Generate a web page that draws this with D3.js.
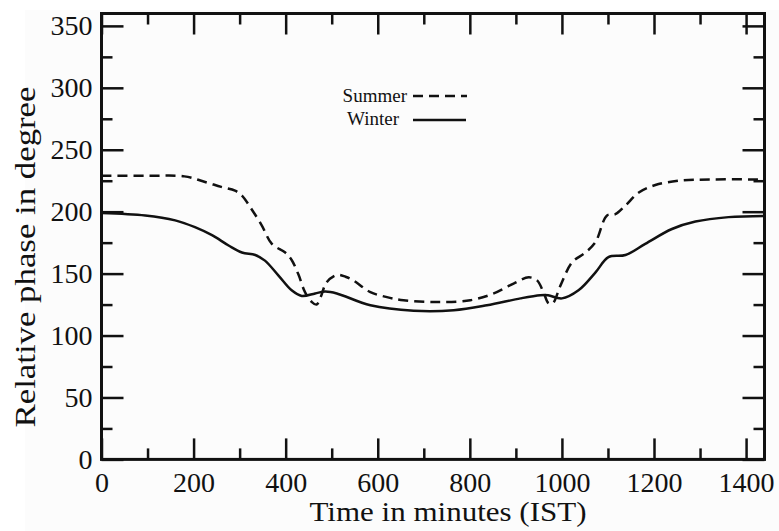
<!DOCTYPE html>
<html>
<head>
<meta charset="utf-8">
<script src="https://cdn.jsdelivr.net/npm/d3@7"></script>
<style>
  html, body { margin: 0; padding: 0; background: #fff; }
  svg { display: block; }
  text { font-family: "Liberation Serif", "Times New Roman", serif; fill: #111; }
</style>
</head>
<body>
<svg id="chart" width="779" height="531"></svg>
<script>
  // data (minutes, degrees)
  var summerX = [0, 100, 180, 225, 260, 290, 305, 326, 348, 370, 399, 413, 428, 442, 457, 467, 476, 489, 512, 530, 547, 584, 620, 656, 728, 801, 852, 895, 928, 946, 960, 971, 980, 997, 1022, 1051, 1073, 1098, 1116, 1138, 1167, 1203, 1254, 1326, 1440];
  var summerY = [229, 229, 228.5, 224, 220, 217, 213, 202, 189, 174, 167, 161, 149, 135, 127, 125, 131, 143, 149, 147.5, 144.5, 135, 131, 128.5, 127, 128.5, 134, 142, 147, 144.5, 135, 126, 126, 140.5, 159, 167, 175.5, 197, 198, 205, 215.5, 221.5, 225, 226, 226];

  var winterX = [0, 95, 160, 203, 240, 276, 305, 334, 355, 384, 413, 435, 464, 486, 511, 584, 678, 765, 837, 910, 953, 970, 1000, 1036, 1073, 1101, 1138, 1181, 1239, 1290, 1362, 1440];
  var winterY = [199, 197, 193, 187.5, 181, 172.7, 167, 165, 160.5, 148.6, 136.5, 132, 134, 135.5, 134, 124.4, 120, 120.4, 124.4, 130, 132.5, 132.5, 130, 136.5, 151, 163.3, 165, 174, 186, 192, 195.6, 196.5];

  var xMajor = [0, 200, 400, 600, 800, 1000, 1200, 1400];
  var xMinor = [100, 300, 500, 700, 900, 1100, 1300];
  var yMajor = [0, 50, 100, 150, 200, 250, 300, 350];
  var yMinor = [25, 75, 125, 175, 225, 275, 325];

  var seriesNames = ['Summer', 'Winter'];

  var svg = d3.select('#chart');
  var plotL = 101.5, plotT = 13.5, plotR = 764.5, plotB = 459.4;

  // faint scan background
  svg.append('rect').attr('x', 25).attr('y', 10).attr('width', 754).attr('height', 521).attr('fill', '#fcfcfc');

  var x = d3.scaleLinear().domain([0, 1440]).range([plotL, plotR]);
  var y = d3.scaleLinear().domain([0, 360]).range([plotB, plotT]);

  function styleAxis(g) {
    g.select('.domain').remove();
    g.selectAll('line').attr('stroke', '#111').attr('stroke-width', 2.5);
    g.selectAll('text').attr('font-size', 28).style('font-family', '"Liberation Serif", serif').attr('fill', '#111');
  }

  // bottom
  svg.append('g').attr('transform', 'translate(0,' + plotB + ')')
    .call(d3.axisBottom(x).tickValues(xMajor).tickSize(-21).tickPadding(13).tickFormat(d3.format('d')))
    .call(styleAxis);
  svg.append('g').attr('transform', 'translate(0,' + plotB + ')')
    .call(d3.axisBottom(x).tickValues(xMinor).tickSize(-11).tickFormat(''))
    .call(styleAxis);
  // top
  svg.append('g').attr('transform', 'translate(0,' + plotT + ')')
    .call(d3.axisTop(x).tickValues(xMajor).tickSize(-21).tickFormat(''))
    .call(styleAxis);
  svg.append('g').attr('transform', 'translate(0,' + plotT + ')')
    .call(d3.axisTop(x).tickValues(xMinor).tickSize(-11).tickFormat(''))
    .call(styleAxis);
  // left
  svg.append('g').attr('transform', 'translate(' + plotL + ',0)')
    .call(d3.axisLeft(y).tickValues(yMajor).tickSize(-22).tickPadding(9).tickFormat(d3.format('d')))
    .call(styleAxis);
  svg.append('g').attr('transform', 'translate(' + plotL + ',0)')
    .call(d3.axisLeft(y).tickValues(yMinor).tickSize(-11).tickFormat(''))
    .call(styleAxis);
  // right
  svg.append('g').attr('transform', 'translate(' + plotR + ',0)')
    .call(d3.axisRight(y).tickValues(yMajor).tickSize(-22).tickFormat(''))
    .call(styleAxis);
  svg.append('g').attr('transform', 'translate(' + plotR + ',0)')
    .call(d3.axisRight(y).tickValues(yMinor).tickSize(-11).tickFormat(''))
    .call(styleAxis);

  // frame
  svg.append('rect')
    .attr('x', plotL).attr('y', plotT)
    .attr('width', plotR - plotL).attr('height', plotB - plotT)
    .attr('fill', 'none').attr('stroke', '#111').attr('stroke-width', 3);

  var line = d3.line()
    .x(function (d) { return x(d[0]); })
    .y(function (d) { return y(d[1]); })
    .curve(d3.curveCatmullRom.alpha(0.5));

  var summer = summerX.map(function (v, i) { return [v, summerY[i]]; });
  var winter = winterX.map(function (v, i) { return [v, winterY[i]]; });

  svg.append('path').datum(winter)
    .attr('d', line).attr('fill', 'none')
    .attr('stroke', '#111').attr('stroke-width', 2.5);

  svg.append('path').datum(summer)
    .attr('d', line).attr('fill', 'none')
    .attr('stroke', '#111').attr('stroke-width', 2.5)
    .attr('stroke-dasharray', '10,6');

  // legend
  var legend = svg.append('g');
  legend.append('text').attr('x', 407).attr('y', 102).attr('text-anchor', 'end')
    .attr('font-size', 19).text(seriesNames[0]);
  legend.append('line').attr('x1', 413).attr('x2', 467).attr('y1', 96).attr('y2', 96)
    .attr('stroke', '#111').attr('stroke-width', 2.5).attr('stroke-dasharray', '10,6');
  legend.append('text').attr('x', 399).attr('y', 125).attr('text-anchor', 'end')
    .attr('font-size', 19).text(seriesNames[1]);
  legend.append('line').attr('x1', 413).attr('x2', 466).attr('y1', 120).attr('y2', 120)
    .attr('stroke', '#111').attr('stroke-width', 2.5);

  // axis titles
  svg.append('text')
    .attr('x', 448).attr('y', 521).attr('text-anchor', 'middle')
    .attr('font-size', 28).attr('textLength', 277).attr('lengthAdjust', 'spacingAndGlyphs')
    .text('Time in minutes (IST)');

  svg.append('text')
    .attr('transform', 'translate(35,257) rotate(-90)')
    .attr('text-anchor', 'middle')
    .attr('font-size', 30).attr('textLength', 341).attr('lengthAdjust', 'spacingAndGlyphs')
    .text('Relative phase in degree');
</script>
</body>
</html>
